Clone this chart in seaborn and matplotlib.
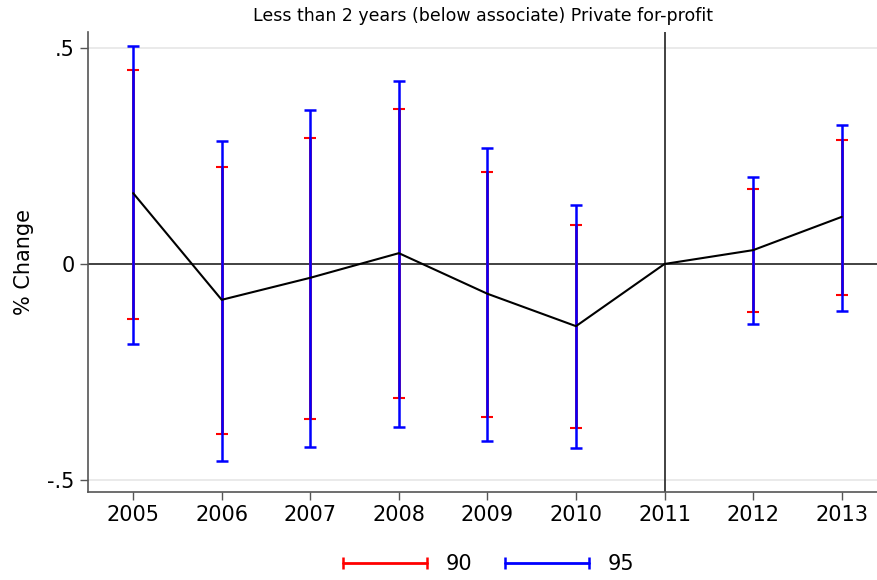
import numpy as np
import pandas as pd
import matplotlib
matplotlib.use('Agg')
import matplotlib.pyplot as plt
import seaborn as sns
from matplotlib.lines import Line2D

# ── data ──
years = [2005, 2006, 2007, 2008, 2009, 2010, 2011, 2012, 2013]
estimate = [0.164, -0.083, -0.032, 0.025, -0.069, -0.144, 0.0, 0.032, 0.109]
lo90 = [-0.127, -0.394, -0.359, -0.310, -0.354, -0.380, 0.0, -0.111, -0.072]
hi90 = [0.449, 0.225, 0.292, 0.359, 0.213, 0.090, 0.0, 0.174, 0.287]
lo95 = [-0.185, -0.456, -0.424, -0.377, -0.410, -0.426, 0.0, -0.139, -0.109]
hi95 = [0.505, 0.285, 0.356, 0.424, 0.269, 0.137, 0.0, 0.201, 0.322]
title = 'Less than 2 years (below associate) Private for-profit'

df = pd.DataFrame({'year': years, 'est': estimate,
                   'lo90': lo90, 'hi90': hi90, 'lo95': lo95, 'hi95': hi95})

sns.set_style('white')
plt.rcParams['font.family'] = ['DejaVu Sans']
plt.rcParams['text.color'] = 'black'
plt.rcParams['axes.labelcolor'] = 'black'
plt.rcParams['xtick.color'] = 'black'
plt.rcParams['ytick.color'] = 'black'

fig = plt.figure(figsize=(8.78, 5.8), dpi=100)
ax = fig.add_axes([0.1002, 0.1517, 0.8998, 0.7931])

# reference lines
ax.axhline(0.5, color='#e6e6e6', lw=1.2, zorder=0)
ax.axhline(-0.5, color='#e6e6e6', lw=1.2, zorder=0)
ax.axhline(0, color='#333333', lw=1.3, zorder=1)
ax.axvline(2011, color='#333333', lw=1.3, zorder=1)

# confidence intervals: 90 in red under 95 in blue
m = df['year'] != 2011
d = df[m]
ax.errorbar(d['year'], d['est'], yerr=[d['est'] - d['lo90'], d['hi90'] - d['est']],
            fmt='none', ecolor='red', elinewidth=2, capsize=4, capthick=1.5, zorder=2)
ax.errorbar(d['year'], d['est'], yerr=[d['est'] - d['lo95'], d['hi95'] - d['est']],
            fmt='none', ecolor='blue', elinewidth=1.8, capsize=4, capthick=1.8, zorder=3)

# point estimates
sns.lineplot(data=df, x='year', y='est', color='black', lw=1.5, ax=ax, zorder=4)

ax.set_xlim(2004.49, 2013.41)
ax.set_ylim(-0.528, 0.537)
ax.set_xticks(years)
ax.set_xticklabels([str(y) for y in years], fontsize=15)
ax.set_yticks([-0.5, 0, 0.5])
ax.set_yticklabels(['-.5', '0', '.5'], fontsize=15)
ax.set_xlabel('')
ax.set_ylabel('% Change', fontsize=15, labelpad=10)
ax.set_title(title, fontsize=12.5, pad=8)
ax.tick_params(axis='both', length=6, width=1, color='#555555', direction='out',
               bottom=True, left=True)

for s in ['top', 'right']:
    ax.spines[s].set_visible(False)
for s in ['left', 'bottom']:
    ax.spines[s].set_color('#555555')
    ax.spines[s].set_linewidth(1.2)

handles = [Line2D([], [], color='red', lw=2, marker='|', markersize=9, markeredgewidth=1.8),
           Line2D([], [], color='blue', lw=2, marker='|', markersize=9, markeredgewidth=1.8)]
fig.legend(handles, ['90', '95'], loc='lower center', ncol=2, frameon=False,
           numpoints=2, handlelength=4.6, fontsize=15, columnspacing=1.3,
           handletextpad=0.6, bbox_to_anchor=(0.553, -0.022))

fig.savefig('out.png', dpi=100)
